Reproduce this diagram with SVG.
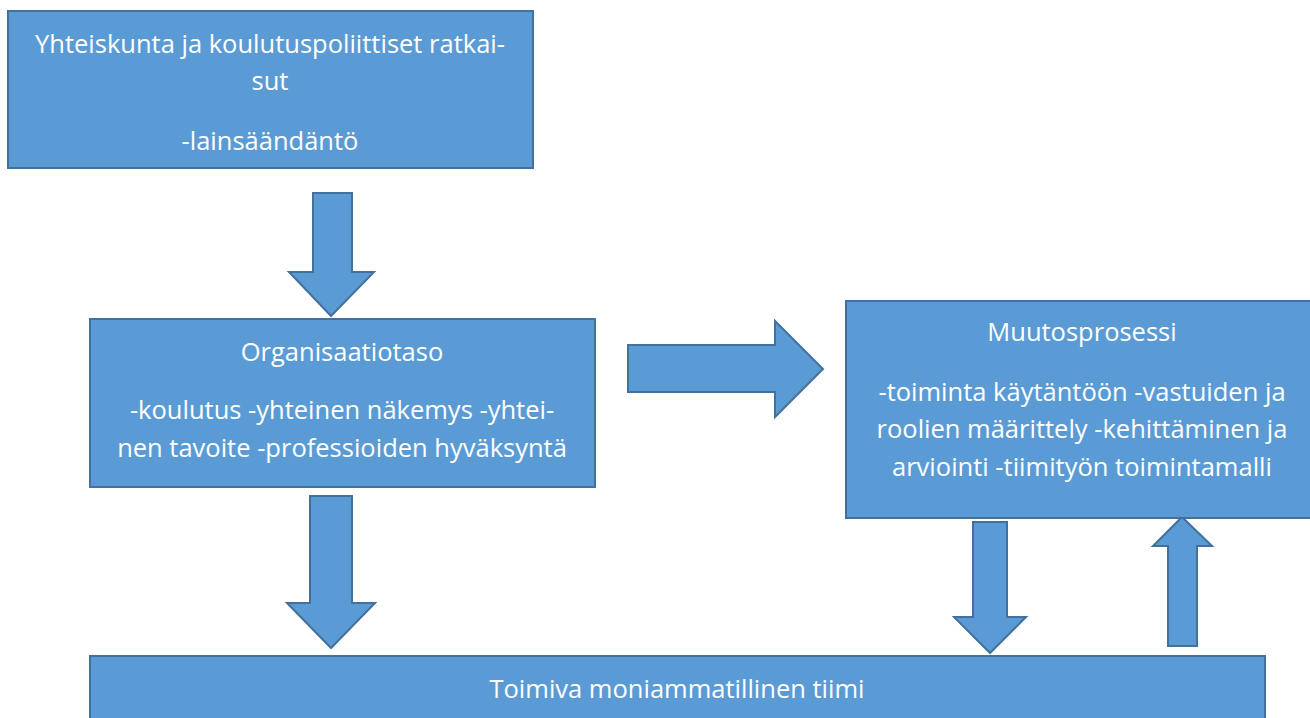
<svg xmlns="http://www.w3.org/2000/svg" width="1310" height="718" viewBox="0 0 1310 718">
<style>
.box{fill:#5B9BD5;stroke:#41719C;stroke-width:2}
.arr{fill:#5B9BD5;stroke:#41719C;stroke-width:2;stroke-linejoin:miter}
text{font-family:"Open Sans","Noto Sans",sans-serif;font-size:25.5px;fill:#FFFFFF;text-anchor:middle}
</style>
<rect width="1310" height="718" fill="#FFFFFF"/>
<g id="connectors">
<polygon id="a1" class="arr" points="313,193 352,193 352,272 374,272 331,316 289,272 313,272"/>
<polygon id="a2" class="arr" points="628,345 775,345 775,321 823,369 775,417 775,392 628,392"/>
<polygon id="a3" class="arr" points="310,496 352,496 352,603 375,603 331,648 287,603 310,603"/>
<polygon id="a4" class="arr" points="973,522 1007,522 1007,617 1026,617 990,653 954,617 973,617"/>
<polygon id="a5" class="arr" points="1182,517 1212,546 1197,546 1197,646 1168,646 1168,546 1153,546"/>
</g>
<g id="n1">
<rect class="box" x="8" y="11" width="525" height="157"/>
<text x="270" y="53">Yhteiskunta ja koulutuspoliittiset ratkai-</text>
<text x="270" y="90">sut</text>
<text x="270" y="150">-lainsäändäntö</text>
</g>
<g id="n2">
<rect class="box" x="90" y="319" width="505" height="168"/>
<text x="342" y="361">Organisaatiotaso</text>
<text x="342" y="419">-koulutus -yhteinen näkemys -yhtei-</text>
<text x="342" y="457">nen tavoite -professioiden hyväksyntä</text>
</g>
<g id="n3">
<rect class="box" x="846" y="301" width="470" height="217"/>
<text x="1082" y="341">Muutosprosessi</text>
<text x="1082" y="401">-toiminta käytäntöön -vastuiden ja</text>
<text x="1082" y="438">roolien määrittely -kehittäminen ja</text>
<text x="1082" y="476">arviointi -tiimityön toimintamalli</text>
</g>
<g id="n4">
<rect class="box" x="90" y="656" width="1175" height="70"/>
<text x="677" y="698">Toimiva moniammatillinen tiimi</text>
</g>
</svg>
